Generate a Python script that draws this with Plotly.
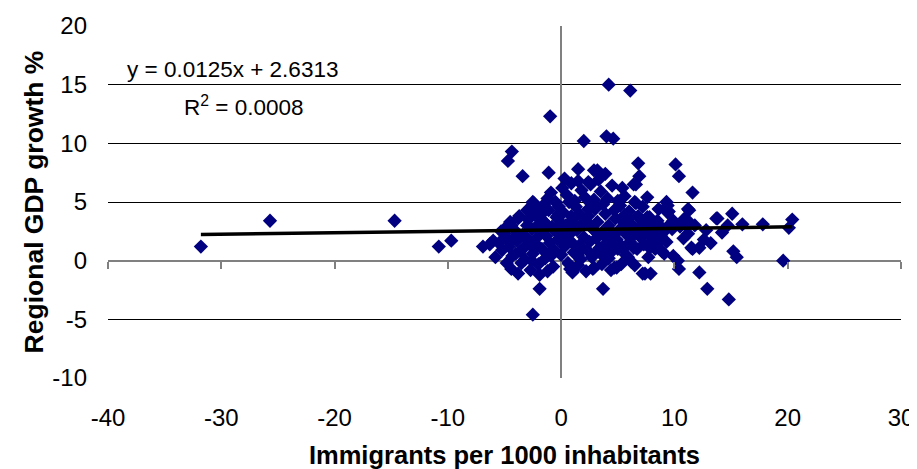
import plotly.graph_objects as go

# ---- data ----
immigrants = [
    -31.8, -25.7, -14.7, -10.8, -9.7, -0.97, 4.2, 6.1, 2.0, 4.0, 4.6,
    -4.35, -4.7, -3.4, -1.1, 0.3, 1.5, 1.5, 3.2, 3.9, 6.8, 6.9, 6.4, 10.1, 10.4, 11.6, 5.4,
    -2.5, -3.8, -6.9, -6.0, -3.8, -4.4, -1.9, -2.5, 3.7, -1.9, 1.0, 2.9, 4.7, 6.5, 7.2, 7.9,
    9.1, 10.3, 10.4, 12.2, 11.5, 7.9, 7.6, 9.4, 11.2, 9.4, 6.5, 0.7, -2.5, -0.3, -1.5,
    9.3, 9.5, 11.3, 13.7, 15.1, 14.7, 16.0, 17.8, 20.4, 20.1, 19.6, 15.2, 15.5, 12.6, 12.2,
    11.6, 12.9, 14.8, 8.8, 11.3, 13.8, 0.9, -0.9, -1.2, -1.8, -5.0, 2.4, 2.9, 6.6, 5.0,
    7.8, 8.5, 9.9, 10.9, 8.1, 7.8, 7.4, 4.9, 2.8, 5.9, 3.8, 5.6, 6.2, 4.4,
    -5.5, -5.2, -4.9, -4.6, -4.3, -4.1, -3.9, -3.6, -3.4, -3.2, -3.0, -2.8, -2.6, -2.5,
    -2.3, -2.2, -2.0, -1.9, -1.7, -1.6, -1.4, -1.3, -1.1, -1.0, -0.8, -0.7, -0.6, -0.4,
    -0.3, -0.1, 0.0, 0.2, 0.3, 0.4, 0.6, 0.7, 0.9, 1.0, 1.1, 1.3, 1.4, 1.6, 1.7, 1.9,
    2.0, 2.1, 2.3, 2.4, 2.5, 2.7, 2.8, 3.0, 3.1, 3.2, 3.4, 3.5, 3.6, 3.8, 3.9, 4.0, 4.2,
    4.3, 4.5, 4.6, 4.8, 4.9, 5.1, 5.2, 5.4, 5.5, 5.7, 5.8, 6.0, 6.1, 6.3, 6.5, 6.7, 6.8,
    7.0, 7.2, 7.3, 7.5, 7.7, 8.0, 8.2, 8.4, 8.7, 9.0, 9.3, 9.6, 9.8, 10.5, 10.8, 11.0,
    0.5, -0.5, 1.8, 2.6, 4.1, 3.3, 5.6, 0.1, -0.2, -1.5, -3.0, -2.0, -4.5, -5.0, -3.5,
    -2.7, -1.2, 0.8, 1.5, 2.2, 3.6, 4.4, 5.3, 6.2, -6.3, -5.8, -4.8, -3.7, -2.4, 1.2,
    2.9, 4.7, 6.6, 7.6, 8.6, 8.9, 9.9, 11.2, 11.8, 12.8, 13.2, 14.2, 0.0, 0.2, -0.9,
    1.6, 2.4, 3.7,
    -5.3, -4.4, -3.3, -2.1, -1.8, -0.6, 0.4, 1.3, 2.2, 3.3, 4.6, 5.9, 6.9, 7.8, 8.8,
    -4.0, -2.9, -1.4, 0.1, 1.7, 3.0, 4.2, 5.6, 7.1, 8.3, -3.1, -0.2, 2.6, 5.0, 7.4,
    -4.2, -2.6, -0.9, 0.9, 2.7, 4.4, 6.4, 8.1, -1.7, 1.5, 3.8, 6.0,
]
gdp_growth = [
    1.2, 3.4, 3.4, 1.2, 1.7, 12.3, 15.0, 14.5, 10.2, 10.6, 10.4,
    9.3, 8.5, 7.2, 7.5, 7.0, 7.8, 6.8, 7.7, 7.4, 8.3, 7.2, 6.5, 8.2, 7.2, 5.8, 6.2,
    5.0, 3.6, 1.2, 1.7, -1.1, -0.7, -2.4, -4.6, -2.4, -1.2, -1.0, -0.6, -0.6, -0.4, -1.1, -1.1,
    0.6, 0.0, -0.7, -1.0, 1.1, 1.4, 3.7, 4.7, 4.4, 4.1, 5.0, 5.0, 4.8, 3.8, 3.3,
    5.0, 4.2, 4.3, 3.6, 4.0, 3.0, 3.1, 3.1, 3.5, 2.8, 0.0, 0.8, 0.3, 1.8, 1.1,
    1.0, -2.4, -3.3, 2.1, 3.3, 3.6, 6.6, 5.8, 5.3, 4.4, 2.3, 6.7, 7.7, 6.5, 5.1,
    3.7, 3.4, 3.4, 3.6, 1.7, 1.1, -1.1, -0.6, -0.7, 0.3, 0.3, 2.8, 2.0, 1.7,
    1.5, 0.9, 2.0, 1.2, 0.4, 2.6, 1.7, 0.8, 2.2, 0.1, 3.0, 1.4, 2.7, 0.6,
    3.9, 1.9, -0.3, 2.5, 1.0, 3.4, 0.2, 2.1, 4.3, 1.5, 2.9, -0.5, 0.9, 3.7,
    1.8, 2.4, 0.5, 4.1, 1.2, 3.0, -0.2, 2.2, 1.6, 3.5, 0.7, 4.6, 2.6, 1.3, 0.1, 3.2,
    2.0, 5.4, 0.9, 3.8, 1.6, 2.8, 0.4, 4.4, 1.9, 3.3, 1.1, 5.9, 2.4, 0.6, 4.0, 1.5, 3.0,
    2.1, 6.4, 0.9, 3.6, 1.8, 2.6, 4.7, 1.2, 3.3, 0.5, 2.2, 4.2, 1.6, 3.0, 2.5, 1.0, 3.8,
    2.0, 4.6, 1.4, 2.9, 0.3, 3.3, 2.3, 1.2, 3.0, 2.4, 1.6, 3.1, 2.7, 2.9, 1.9, 3.0,
    5.6, 5.0, 6.0, 6.5, 5.3, 6.9, 5.5, 6.2, 4.6, 4.8, 4.3, 3.1, 3.3, 2.7, -0.2,
    -0.8, -0.9, -0.7, -0.4, -0.9, -0.3, -0.8, -0.3, -0.1, 1.4, 0.3, -0.2, 3.8, 4.9, 5.1,
    5.2, 4.3, 4.9, 5.4, 4.4, 0.8, 0.4, 2.3, 3.0, 2.6, 1.5, 2.4, 3.2, 2.7, 0.4,
    4.0, 4.4, 4.8,
    2.5, 3.0, 1.1, 1.3, 3.6, 2.6, 1.9, 2.9, 3.4, 0.9, 2.3, 1.4, 2.8, 2.1, 1.8,
    0.6, 3.5, 2.7, 1.6, 0.8, 2.5, 0.2, 3.9, 3.4, 1.0, 2.0, 4.0, 4.9, 1.0, 2.3,
    1.9, 0.0, 0.7, 3.8, 0.3, 1.3, 1.1, 2.6, 4.0, 0.4, 2.1, 3.6,
]

trend_slope = 0.0125
trend_intercept = 2.6313
equation_text = "y = 0.0125x + 2.6313"
r2_text = "R<sup>2</sup> = 0.0008"

x_ticks = [-40, -30, -20, -10, 0, 10, 20, 30]
y_ticks = [-10, -5, 0, 5, 10, 15, 20]
x_tick_labels = [str(v) for v in x_ticks]
y_tick_labels = [str(v) for v in y_ticks]

x_title = "Immigrants per 1000 inhabitants"
y_title = "Regional GDP growth %"

FONT = "Arial, 'Liberation Sans', sans-serif"

x_lo, x_hi = min(immigrants), max(immigrants)
trend_x = [x_lo, x_hi]
trend_y = [trend_slope * v + trend_intercept for v in trend_x]

fig = go.Figure()

fig.add_trace(go.Scatter(
    x=immigrants, y=gdp_growth, mode="markers",
    marker=dict(symbol="diamond", size=11, color="#000080", line=dict(width=0)),
    showlegend=False, hoverinfo="x+y",
))
fig.add_trace(go.Scatter(
    x=trend_x, y=trend_y, mode="lines",
    line=dict(color="black", width=3.5),
    showlegend=False, hoverinfo="skip",
))
# helper trace for the tick axis at y = 0
fig.add_trace(go.Scatter(
    x=[x_ticks[0], x_ticks[-1]], y=[0, 0], xaxis="x2", yaxis="y",
    mode="lines", line=dict(width=0, color="rgba(0,0,0,0)"),
    showlegend=False, hoverinfo="skip",
))

# the page body has an 8px margin, so the figure is sized to fit the window
fig.update_layout(
    width=909, height=461,
    margin=dict(l=100, r=16, t=18, b=91),
    paper_bgcolor="white", plot_bgcolor="white",
    font=dict(family=FONT, color="black", size=24),
    xaxis=dict(
        range=[x_ticks[0], x_ticks[-1]], tickvals=x_ticks, ticktext=x_tick_labels,
        showgrid=False, zeroline=True, zerolinecolor="#808080", zerolinewidth=1.5,
        showline=False, ticks="", ticklabelstandoff=23, automargin=False,
        tickfont=dict(size=24),
        title=dict(text="<b>" + x_title + "</b>", font=dict(size=25.5), standoff=21),
    ),
    xaxis2=dict(
        range=[x_ticks[0], x_ticks[-1]], tickvals=x_ticks, overlaying="x",
        anchor="free", position=(0 - y_ticks[0]) / (y_ticks[-1] - y_ticks[0]),
        showgrid=False, zeroline=False, showline=False, showticklabels=False,
        ticks="outside", ticklen=7, tickwidth=1.5, tickcolor="#808080", automargin=False,
    ),
    yaxis=dict(
        range=[y_ticks[0], y_ticks[-1]], tickvals=y_ticks, ticktext=y_tick_labels,
        showgrid=True, gridcolor="black", gridwidth=1,
        zeroline=True, zerolinecolor="#808080", zerolinewidth=1.5,
        showline=False, ticks="", ticklabelstandoff=20, automargin=False,
        tickfont=dict(size=24),
        title=dict(text="<b>" + y_title + "</b>", font=dict(size=26.5), standoff=1),
    ),
    annotations=[
        dict(x=-38.5, y=16.3, xref="x", yref="y", text=equation_text, showarrow=False,
             xanchor="left", yanchor="middle", font=dict(size=22.5, color="black")),
        dict(x=-33.5, y=13.2, xref="x", yref="y", text=r2_text, showarrow=False,
             xanchor="left", yanchor="middle", font=dict(size=22.5, color="black")),
    ],
)

fig.write_html("out.html")
